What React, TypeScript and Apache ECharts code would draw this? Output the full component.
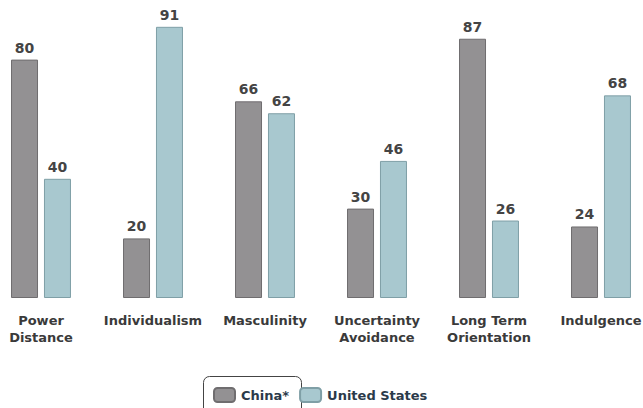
import React, { useEffect, useRef } from "react";
import * as echarts from "echarts";

const categories = ["Power\nDistance", "Individualism", "Masculinity", "Uncertainty\nAvoidance", "Long Term\nOrientation", "Indulgence"];
const chinaValues = [80, 20, 66, 30, 87, 24];
const usValues = [40, 91, 62, 46, 26, 68];
const seriesNames = ["China*", "United States"];

const OFFSET = 15;

export default function App() {
  const ref = useRef<HTMLDivElement>(null);
  useEffect(() => {
    const chart = echarts.init(ref.current!, null, { renderer: "svg" });
    const font = "DejaVu Sans";
    const labelStyle = {
      show: true,
      position: "top" as const,
      distance: 5,
      fontFamily: font,
      fontWeight: "bold" as const,
      fontSize: 14,
      color: "#444",
    };
    chart.setOption({
      animation: false,
      backgroundColor: "#fff",
      grid: { left: 0, right: 0, top: -1, bottom: 110, containLabel: false },
      xAxis: {
        type: "category",
        data: categories,
        axisLine: { show: false },
        axisTick: { show: false },
        axisLabel: {
          margin: 14,
          fontFamily: font,
          fontWeight: "bold",
          fontSize: 13,
          lineHeight: 17,
          color: "#3a3a3a",
          interval: 0,
        },
      },
      yAxis: {
        type: "value",
        min: 0,
        max: 100,
        show: false,
        splitLine: { show: false },
      },
      legend: {
        data: seriesNames,
        left: 213 + OFFSET,
        top: 387,
        padding: 0,
        itemWidth: 21,
        itemHeight: 14,
        itemGap: 10,
        icon: "roundRect",
        textStyle: { fontFamily: font, fontWeight: "bold", fontSize: 13, color: "#2b3a4a", padding: [0, 0, 0, 1] },
      },
      graphic: [
        {
          type: "rect",
          shape: { x: 203.5 + OFFSET, y: 376.5, width: 98, height: 40, r: 6 },
          style: { fill: "none", stroke: "#444", lineWidth: 1 },
          silent: true,
        },
      ],
      series: [
        {
          name: seriesNames[0],
          type: "bar",
          data: chinaValues,
          barWidth: 27,
          barGap: "22%",
          itemStyle: { color: "#939193", borderColor: "#6f6d6f", borderWidth: 1 },
          label: labelStyle,
        },
        {
          name: seriesNames[1],
          type: "bar",
          data: usValues,
          barWidth: 27,
          barGap: "22%",
          itemStyle: { color: "#a8c8cf", borderColor: "#7f9fa6", borderWidth: 1 },
          label: labelStyle,
        },
      ],
    });
    return () => chart.dispose();
  }, []);
  return (
    <div style={{ width: 643, height: 408, position: "absolute", left: 0, top: 0, overflow: "hidden" }}>
      <div ref={ref} style={{ width: 672, height: 408, position: "absolute", left: -OFFSET, top: 0 }} />
    </div>
  );
}
